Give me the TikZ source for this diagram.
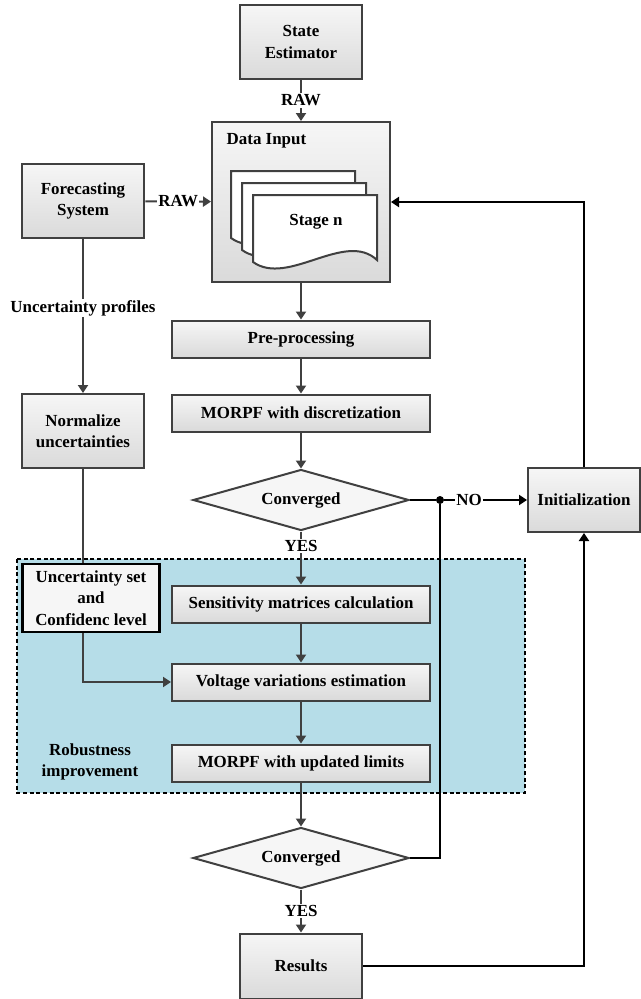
\documentclass[tikz,border=0pt]{standalone}
\usepackage{fontspec}
\setmainfont{Liberation Serif}
\usepackage{tikz}
\usetikzlibrary{arrows.meta,shapes.geometric,backgrounds}
\definecolor{boxline}{RGB}{64,64,64}
\definecolor{boxtop}{RGB}{246,246,246}
\definecolor{boxbottom}{RGB}{218,218,218}
\definecolor{robblue}{RGB}{182,221,232}

\begin{document}
\begin{tikzpicture}[
x=0.75pt,y=-0.75pt,
font=\fontsize{12.7}{16}\selectfont\bfseries,
box/.style={draw=boxline,line width=1.5pt,top color=boxtop,bottom color=boxbottom,align=center,inner sep=2pt},
flowbox/.style={box,minimum width=193.5pt,minimum height=27.75pt},
sidebox/.style={box,minimum width=92pt,minimum height=55.5pt},
decision/.style={diamond,draw=boxline,line width=1.5pt,fill=boxtop,aspect=3.5,inner sep=1pt,minimum width=162pt,minimum height=45.75pt},
doc/.style={draw=boxline,line width=1.5pt,fill=white},
arr/.style={-{Triangle[length=6pt,width=7.5pt]},line width=1.5pt,boxline},
link/.style={line width=1.5pt,boxline},
back/.style={-{Triangle[length=6pt,width=7.5pt]},line width=1.5pt,black},
lbl/.style={fill=white,text=black,inner sep=1pt}
]
\useasboundingbox (0,0) rectangle (641,999);
\fill[robblue] (17,559) rectangle (525,793);
\draw[black,line width=1.2pt,dash pattern=on 3pt off 2pt] (17,559) rectangle (525,793);

\node[sidebox] (state) at (301,42) {State\\Estimator};
\node[box,minimum width=133.5pt,minimum height=120pt] (datain) at (301,202) {};
\node[anchor=west] (datatitle) at (222,141) {Data Input};
\foreach \px/\py in {231/171,242/183,253/195}
  \draw[doc] (\px,\py) -- (\px+124,\py) -- (\px+124,\py+65) .. controls (\px+92,\py+35) and (\px+35,\py+92) .. (\px,\py+67) -- cycle;
\node (stage) at (316,222) {Stage n};
\node[sidebox] (forecast) at (83,201) {Forecasting\\System};
\node[sidebox] (normal) at (83,431) {Normalize\\uncertainties};
\node[flowbox] (prep) at (301,339) {Pre-processing};
\node[flowbox] (morpf) at (301,413) {MORPF with discretization};
\node[decision] (conv1) at (301,500) {Converged};
\node[box,minimum width=84pt,minimum height=48pt] (init) at (584,500) {Initialization};
\node[draw=black,line width=2pt,fill=boxtop,align=center,minimum width=103pt,minimum height=51pt,inner sep=1pt] (uncset) at (91,598) {Uncertainty set\\and\\Confidenc level};
\node[flowbox] (sens) at (301,604) {Sensitivity matrices calculation};
\node[flowbox] (volt) at (301,682) {Voltage variations estimation};
\node[flowbox] (morpf2) at (301,763) {MORPF with updated limits};
\node[align=center] (robust) at (90,762) {Robustness\\improvement};
\node[decision] (conv2) at (301,858) {Converged};
\node[box,minimum width=91.5pt,minimum height=48.75pt] (results) at (301,966) {Results};
\node[circle,fill=black,inner sep=0pt,minimum size=6pt] (jn) at (440,500) {};

\draw[arr] (state) -- node[lbl] {RAW} (datain);
\draw[arr] (forecast) -- node[lbl] {RAW} (datain);
\draw[arr] (forecast) -- node[lbl,pos=0.45] {Uncertainty profiles} (normal);
\draw[link] (normal.south) -- (normal.south |- uncset.north);
\draw[arr] (normal.south |- uncset.south) |- (volt.west);
\draw[arr] (datain) -- (prep);
\draw[arr] (prep) -- (morpf);
\draw[arr] (morpf) -- (conv1);
\draw[arr] (conv1) -- node[lbl,pos=0.28] {YES} (sens);
\draw[arr] (sens) -- (volt);
\draw[arr] (volt) -- (morpf2);
\draw[arr] (morpf2) -- (conv2);
\draw[arr] (conv2) -- node[lbl] {YES} (results);
\draw[back] (conv1) -- (jn) -- node[lbl,pos=0.3] {NO} (init);
\draw[black,line width=1.5pt] (conv2.east) -| (jn);
\draw[back] (init.north) |- (datain.east);
\draw[back] (results.east) -| (init.south);
\end{tikzpicture}
\end{document}
